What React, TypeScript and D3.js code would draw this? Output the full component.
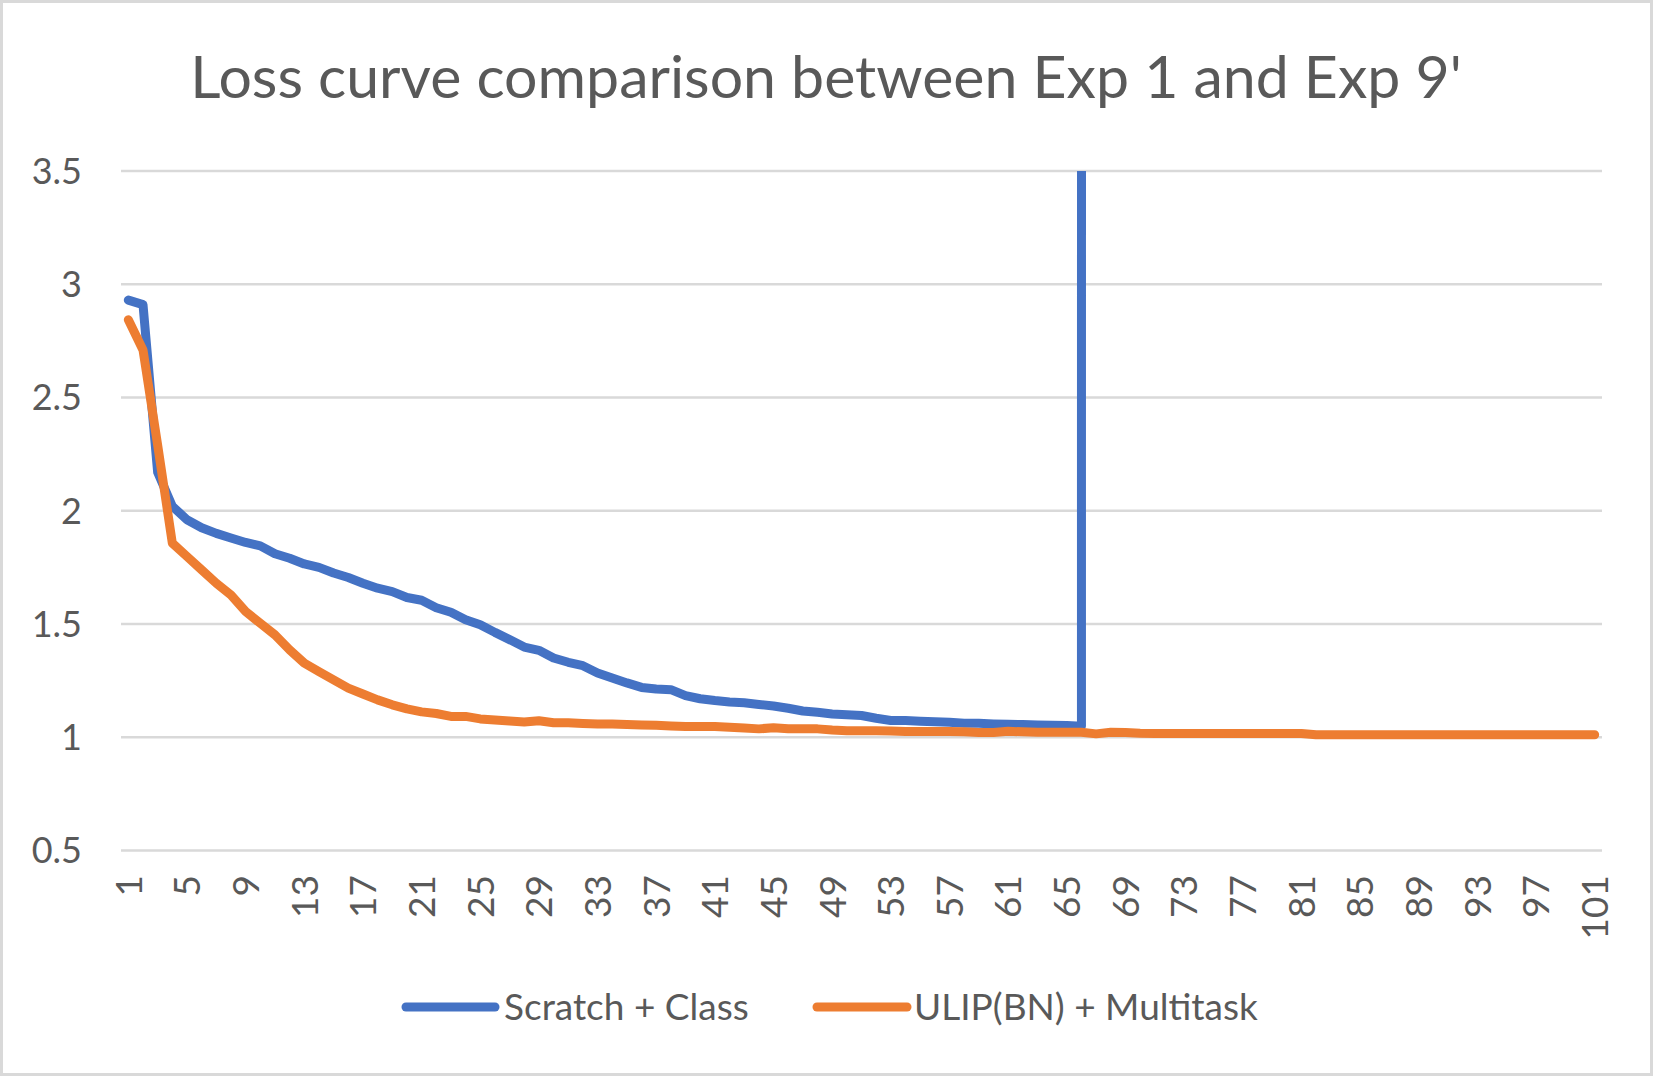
import React from "react";
import * as d3 from "d3";

const title = "Loss curve comparison between Exp 1 and Exp 9'";
const seriesNames = ["Scratch + Class", "ULIP(BN) + Multitask"];
const seriesColors = ["#4472C4", "#ED7D31"];

const epochs = d3.range(1, 102);
const xTickLabels = [1, 5, 9, 13, 17, 21, 25, 29, 33, 37, 41, 45, 49, 53, 57, 61, 65, 69, 73, 77, 81, 85, 89, 93, 97, 101];
const yTicks = [0.5, 1, 1.5, 2, 2.5, 3, 3.5];

// Scratch + Class: diverges at epoch 67 (far above the axis maximum)
const scratchClass = [
  2.93, 2.91, 2.17, 2.02, 1.96, 1.925, 1.9, 1.88, 1.86, 1.845,
  1.81, 1.79, 1.765, 1.75, 1.725, 1.705, 1.68, 1.658, 1.643, 1.617,
  1.605, 1.572, 1.552, 1.519, 1.497, 1.463, 1.431, 1.398, 1.384, 1.35,
  1.331, 1.316, 1.284, 1.262, 1.24, 1.22, 1.213, 1.21, 1.184, 1.17,
  1.162, 1.156, 1.152, 1.145, 1.138, 1.128, 1.116, 1.11, 1.103, 1.099,
  1.096, 1.084, 1.074, 1.074, 1.071, 1.068, 1.066, 1.062, 1.062, 1.059,
  1.057, 1.056, 1.054, 1.053, 1.052, 1.049, 1000,
];

const ulipMultitask = [
  2.843, 2.71, 2.29, 1.857, 1.798, 1.739, 1.68, 1.628, 1.555, 1.503,
  1.452, 1.386, 1.327, 1.29, 1.253, 1.217, 1.191, 1.165, 1.143, 1.125,
  1.112, 1.105, 1.092, 1.092, 1.081, 1.076, 1.072, 1.067, 1.073, 1.064,
  1.064, 1.061, 1.058, 1.058, 1.056, 1.054, 1.053, 1.05, 1.048, 1.047,
  1.047, 1.044, 1.041, 1.037, 1.042, 1.038, 1.037, 1.037, 1.032, 1.029,
  1.029, 1.029, 1.028, 1.025, 1.025, 1.025, 1.025, 1.024, 1.021, 1.021,
  1.026, 1.024, 1.022, 1.022, 1.022, 1.022, 1.015, 1.022, 1.021, 1.018,
  1.017, 1.017, 1.017, 1.017, 1.017, 1.017, 1.017, 1.017, 1.017, 1.017,
  1.017, 1.011, 1.011, 1.011, 1.011, 1.011, 1.011, 1.011, 1.011, 1.011,
  1.011, 1.011, 1.011, 1.011, 1.011, 1.011, 1.011, 1.011, 1.011, 1.011,
  1.011,
];

const W = 1653;
const H = 1076;
const FONT = "Lato, 'Open Sans', sans-serif";
const TEXT = "#595959";
const GRID = "#D9D9D9";

export default function App() {
  const plot = { left: 121, right: 1602, top: 171, bottom: 850.5 };
  const x = d3.scaleBand<number>().domain(epochs).range([plot.left, plot.right]);
  const cx = (e: number) => (x(e) as number) + x.bandwidth() / 2;
  const y = d3.scaleLinear().domain([0.5, 3.5]).range([plot.bottom, plot.top]);
  const line = d3
    .line<number>()
    .x((_, i) => cx(epochs[i]))
    .y((d) => y(d));

  const series = [scratchClass, ulipMultitask];

  const legendY = 1007;
  const legendItems = [
    { x1: 406, x2: 495, tx: 504 },
    { x1: 817, x2: 907, tx: 914 },
  ];

  return (
    <svg
      width={W}
      height={H}
      viewBox={`0 0 ${W} ${H}`}
      style={{ position: "absolute", left: 0, top: 0, background: "#fff" }}
    >
      <defs>
        <clipPath id="plotClip">
          <rect x={plot.left} y={plot.top} width={plot.right - plot.left} height={plot.bottom - plot.top + 10} />
        </clipPath>
      </defs>
      <rect x={0} y={0} width={W} height={H} fill="#fff" />
      <rect x={1.5} y={1.5} width={W - 3} height={H - 3} fill="none" stroke={GRID} strokeWidth={3} />

      <text
        x={826}
        y={98}
        textAnchor="middle"
        fontFamily={FONT}
        fontSize={59}
        fill={TEXT}
      >
        {title}
      </text>

      {yTicks.map((t) => (
        <g key={t}>
          <line x1={plot.left} x2={plot.right} y1={y(t)} y2={y(t)} stroke={GRID} strokeWidth={2.5} />
          <text
            x={82}
            y={y(t)}
            dy="0.36em"
            textAnchor="end"
            fontFamily={FONT}
            fontSize={36}
            fill={TEXT}
          >
            {t}
          </text>
        </g>
      ))}

      {xTickLabels.map((t) => (
        <text
          key={t}
          transform={`translate(${cx(t)},875) rotate(-90)`}
          dy="0.36em"
          textAnchor="end"
          fontFamily={FONT}
          fontSize={37}
          fill={TEXT}
        >
          {t}
        </text>
      ))}

      <g clipPath="url(#plotClip)">
        {series.map((s, i) => (
          <path
            key={i}
            d={line(s) || ""}
            fill="none"
            stroke={seriesColors[i]}
            strokeWidth={9}
            strokeLinejoin="round"
            strokeLinecap="round"
          />
        ))}
      </g>

      {legendItems.map((it, i) => (
        <g key={i}>
          <line
            x1={it.x1}
            x2={it.x2}
            y1={legendY}
            y2={legendY}
            stroke={seriesColors[i]}
            strokeWidth={9}
            strokeLinecap="round"
          />
          <text
            x={it.tx}
            y={legendY}
            dy="0.36em"
            fontFamily={FONT}
            fontSize={37}
            fill={TEXT}
          >
            {seriesNames[i]}
          </text>
        </g>
      ))}
    </svg>
  );
}
